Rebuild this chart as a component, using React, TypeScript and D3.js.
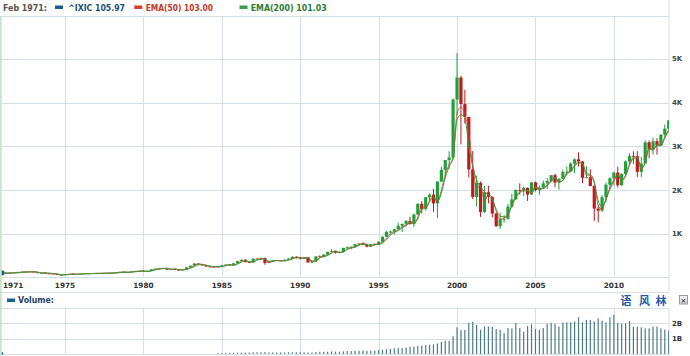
import React from 'react';
import * as d3 from 'd3';

const W = 690;
const H = 356;

// Quarterly candles, first quarter = Q1 1971
const START_YEAR = 1971;
const quarterOpen = [
  100, 104.3, 106.5, 106.0,
  114.1, 128.2, 130.6, 129.6,
  133.7, 117.5, 100.0, 105.4,
  92.2, 89.5, 75.9, 56.2,
  59.8, 72.5, 83.4, 74.3,
  77.6, 90.6, 91.3, 91.3,
  97.9, 95.6, 99.7, 100.8,
  105.1, 105.7, 116.9, 130.6,
  118.0, 131.0, 137.2, 149.9,
  151.1, 131.0, 157.8, 187.8,
  202.3, 210.2, 215.8, 180.0,
  195.8, 175.7, 171.3, 187.7,
  232.4, 270.8, 318.7, 296.7,
  278.6, 250.8, 239.6, 249.9,
  247.4, 279.2, 296.2, 280.3,
  324.9, 374.7, 405.5, 350.7,
  348.8, 430.1, 424.7, 444.3,
  330.5, 374.6, 394.7, 387.7,
  381.4, 406.7, 435.3, 472.9,
  454.8, 435.5, 462.3, 344.5,
  373.8, 482.3, 475.9, 526.9,
  586.3, 603.8, 563.6, 583.3,
  677.0, 690.1, 703.9, 762.8,
  776.8, 743.5, 706.0, 764.3,
  752.0, 817.2, 933.5, 1043.5,
  1052.1, 1101.4, 1185.0, 1226.9,
  1291.0, 1221.7, 1442.1, 1685.7,
  1570.4, 1835.7, 1894.7, 1693.8,
  2192.7, 2461.4, 2686.1, 2746.2,
  4069.3, 4572.8, 3966.1, 3672.8,
  2470.5, 1840.3, 2160.5, 1498.8,
  1950.4, 1845.4, 1463.2, 1172.1,
  1335.5, 1341.2, 1622.8, 1786.9,
  2003.4, 1994.2, 2047.8, 1896.8,
  2175.4, 1999.2, 2057.0, 2151.7,
  2205.3, 2339.8, 2172.1, 2258.4,
  2415.3, 2421.6, 2603.2, 2701.5,
  2652.3, 2279.1, 2293.0, 2091.9,
  1577.0, 1528.6, 1835.0, 2122.4,
  2269.2, 2398.0, 2109.2, 2368.6,
  2652.9, 2781.1, 2773.5, 2415.4,
  2605.2, 3091.6, 2935.1, 3116.2,
  3019.5, 3267.5, 3403.3,
];
const quarterHigh = [
  106, 109, 110, 114.5,
  128.5, 133, 133, 136.8,
  136, 118, 110, 112,
  99, 91, 78, 66,
  75, 84, 88, 81,
  91, 92, 93, 98,
  100, 100, 102, 105.1,
  106, 121, 133, 134,
  131, 137, 152, 153,
  165, 158, 189, 208,
  211, 223, 219, 200,
  197, 186, 189, 240,
  270, 329, 322, 300,
  288, 256, 256, 257,
  290, 299, 301, 326,
  376, 411, 411, 365,
  435, 437, 456, 456,
  378, 396, 397, 390,
  410, 437, 486, 486,
  470, 470, 470, 378,
  485, 508, 530, 587,
  645, 610, 600, 677,
  711, 707, 765, 787,
  804, 746, 772, 778,
  825, 935, 1068, 1070,
  1117, 1250, 1230, 1317,
  1390, 1460, 1698, 1745,
  1840, 1925, 2028, 2200,
  2535, 2690, 2887, 4091,
  5132, 4610, 4289, 3674,
  2892, 2328, 2193, 2099,
  2098, 1850, 1490, 1478,
  1426, 1680, 1915, 2015,
  2153, 2079, 2063, 2185,
  2192, 2102, 2220, 2278,
  2340, 2375, 2267, 2470,
  2541, 2634, 2725, 2861,
  2662, 2552, 2476, 2110,
  1666, 1880, 2168, 2296,
  2423, 2535, 2382, 2675,
  2840, 2888, 2888, 2754,
  3134, 3134, 3196, 3184,
  3270, 3498, 3605,
];
const quarterLow = [
  99, 103, 102, 99.7,
  113.5, 125, 126, 128,
  116, 98, 97, 88,
  87, 73, 56, 54.9,
  59.8, 72, 72, 73,
  77, 86, 88, 86,
  93, 93, 97, 96,
  99, 105, 115, 106,
  117, 128, 136, 135,
  124, 125, 156, 182,
  190, 206, 177, 175,
  172, 168, 159, 186,
  230, 268, 285, 271,
  245, 230, 225, 240,
  246, 276, 280, 278,
  322, 370, 350, 347,
  348, 404, 422, 291,
  330, 365, 377, 372,
  378, 400, 433, 433,
  410, 420, 340, 322,
  353, 470, 470, 510,
  580, 547, 556, 570,
  645, 645, 688, 740,
  735, 691, 700, 728,
  740, 810, 925, 985,
  988, 1094, 1040, 1200,
  1210, 1155, 1430, 1465,
  1530, 1750, 1499, 1357,
  2190, 2320, 2490, 2700,
  3711, 3042, 3521, 2288,
  1794, 1619, 1387, 1480,
  1696, 1375, 1160, 1108,
  1253, 1320, 1590, 1780,
  1897, 1865, 1750, 1894,
  1968, 1890, 2050, 2025,
  2188, 2065, 2012, 2250,
  2331, 2413, 2386, 2541,
  2155, 2268, 2167, 1295,
  1265, 1494, 1727, 2024,
  2100, 2061, 2091, 2335,
  2603, 2598, 2299, 2298,
  2602, 2726, 2810, 2810,
  3020, 3197, 3380,
];
const quarterClose = [
  104.3, 106.5, 106.0, 114.1,
  128.2, 130.6, 129.6, 133.7,
  117.5, 100.0, 105.4, 92.2,
  89.5, 75.9, 56.2, 59.8,
  72.5, 83.4, 74.3, 77.6,
  90.6, 91.3, 91.3, 97.9,
  95.6, 99.7, 100.8, 105.1,
  105.7, 116.9, 130.6, 118.0,
  131.0, 137.2, 149.9, 151.1,
  131.0, 157.8, 187.8, 202.3,
  210.2, 215.8, 180.0, 195.8,
  175.7, 171.3, 187.7, 232.4,
  270.8, 318.7, 296.7, 278.6,
  250.8, 239.6, 249.9, 247.4,
  279.2, 296.2, 280.3, 324.9,
  374.7, 405.5, 350.7, 348.8,
  430.1, 424.7, 444.3, 330.5,
  374.6, 394.7, 387.7, 381.4,
  406.7, 435.3, 472.9, 454.8,
  435.5, 462.3, 344.5, 373.8,
  482.3, 475.9, 526.9, 586.3,
  603.8, 563.6, 583.3, 677.0,
  690.1, 703.9, 762.8, 776.8,
  743.5, 706.0, 764.3, 752.0,
  817.2, 933.5, 1043.5, 1052.1,
  1101.4, 1185.0, 1226.9, 1291.0,
  1221.7, 1442.1, 1685.7, 1570.4,
  1835.7, 1894.7, 1693.8, 2192.7,
  2461.4, 2686.1, 2746.2, 4069.3,
  4572.8, 3966.1, 3672.8, 2470.5,
  1840.3, 2160.5, 1498.8, 1950.4,
  1845.4, 1463.2, 1172.1, 1335.5,
  1341.2, 1622.8, 1786.9, 2003.4,
  1994.2, 2047.8, 1896.8, 2175.4,
  1999.2, 2057.0, 2151.7, 2205.3,
  2339.8, 2172.1, 2258.4, 2415.3,
  2421.6, 2603.2, 2701.5, 2652.3,
  2279.1, 2293.0, 2091.9, 1577.0,
  1528.6, 1835.0, 2122.4, 2269.2,
  2398.0, 2109.2, 2368.6, 2652.9,
  2781.1, 2773.5, 2415.4, 2605.2,
  3091.6, 2935.1, 3116.2, 3019.5,
  3267.5, 3403.3, 3590,
];
const ema50 = [
  100, 103, 106, 106,
  110, 125, 130, 130,
  133, 122, 103, 105,
  95, 90, 78, 60,
  60, 70, 81, 77,
  78, 88, 90, 91,
  96, 96, 99, 101,
  104, 105, 115, 128,
  118, 128, 136, 148,
  149, 135, 153, 183,
  200, 208, 214, 185,
  193, 179, 172, 185,
  225, 265, 312, 298,
  280, 255, 240, 246,
  246, 278, 293, 283,
  318, 368, 400, 358,
  350, 418, 425, 440,
  345, 370, 390, 385,
  381, 402, 432, 465,
  455, 440, 455, 360,
  365, 470, 482, 520,
  575, 610, 572, 590,
  660, 685, 702, 752,
  775, 760, 718, 758,
  765, 810, 900, 1010,
  1045, 1090, 1160, 1200,
  1270, 1240, 1380, 1620,
  1600, 1760, 1860, 1720,
  2000, 2350, 2580, 2760,
  3750, 3900, 3750, 3300,
  2550, 2050, 2100, 1750,
  1900, 1820, 1520, 1330,
  1360, 1420, 1640, 1820,
  1960, 2000, 1990, 1920,
  2100, 2030, 2040, 2120,
  2220, 2290, 2180, 2220,
  2400, 2440, 2570, 2640,
  2610, 2340, 2340, 2150,
  1650, 1560, 1800, 2060,
  2230, 2360, 2220, 2340,
  2600, 2750, 2760, 2470,
  2640, 2980, 2920, 3040,
  3020, 3220, 3380,
];
const ema200 = [
  100, 101, 104, 105,
  107, 118, 126, 128,
  131, 124, 108, 106,
  98, 92, 82, 66,
  63, 69, 78, 76,
  77, 85, 89, 90,
  94, 95, 98, 100,
  102, 104, 111, 122,
  118, 125, 132, 142,
  146, 136, 149, 172,
  190, 202, 208, 190,
  192, 182, 176, 184,
  214, 248, 290, 290,
  280, 262, 248, 249,
  249, 270, 286, 282,
  308, 350, 382, 360,
  352, 400, 416, 430,
  370, 372, 386, 385,
  382, 397, 422, 452,
  450, 442, 452, 380,
  372, 452, 472, 505,
  555, 590, 572, 585,
  645, 672, 692, 735,
  762, 755, 722, 752,
  755, 790, 870, 970,
  1030, 1070, 1140, 1180,
  1250, 1240, 1340, 1560,
  1590, 1720, 1830, 1740,
  1930, 2280, 2530, 2740,
  3600, 3720, 3650, 3000,
  2540, 2230, 2080, 1960,
  1890, 1770, 1560, 1400,
  1390, 1450, 1650, 1850,
  1940, 1980, 1980, 1930,
  2060, 2020, 2030, 2100,
  2190, 2260, 2190, 2220,
  2370, 2420, 2540, 2620,
  2610, 2380, 2350, 2200,
  1750, 1620, 1780, 2020,
  2200, 2330, 2230, 2320,
  2570, 2720, 2740, 2500,
  2620, 2940, 2910, 3020,
  3010, 3190, 3350,
];

// Quarterly average daily volume (billions), first bar = Q4 1984
const VOLUME_START_INDEX = (1984 - START_YEAR) * 4 + 3;
const volumeB = [
  0.06,
  0.06, 0.07, 0.07, 0.08,
  0.09, 0.09, 0.09, 0.09,
  0.11, 0.11, 0.11, 0.12,
  0.10, 0.10, 0.09, 0.10,
  0.10, 0.11, 0.11, 0.11,
  0.11, 0.11, 0.10, 0.10,
  0.13, 0.14, 0.14, 0.15,
  0.17, 0.15, 0.15, 0.17,
  0.19, 0.19, 0.20, 0.21,
  0.22, 0.20, 0.21, 0.22,
  0.25, 0.28, 0.31, 0.33,
  0.36, 0.40, 0.38, 0.42,
  0.46, 0.47, 0.52, 0.55,
  0.58, 0.60, 0.62, 0.68,
  0.78, 0.85, 0.85, 1.15,
  1.72, 1.55, 1.55, 2.00,
  2.08, 1.87, 1.57, 1.78,
  1.78, 1.74, 1.61, 1.57,
  1.35, 1.68, 1.65, 2.00,
  1.68, 1.44, 1.80, 1.91,
  1.61, 1.55, 1.68, 1.94,
  2.00, 1.94, 1.76, 2.02,
  2.04, 2.04, 2.10, 2.37,
  2.04, 2.20, 2.20, 2.10,
  2.30, 2.15, 2.04, 2.37,
  2.52, 2.00, 1.94, 1.98,
  2.13, 1.76, 1.76, 1.72,
  1.65, 1.65, 1.76, 1.76,
  1.65, 1.57, 1.50,
];

const yearTicks = [1971, 1975, 1980, 1985, 1990, 1995, 2000, 2005, 2010];
const priceTicks = [1000, 2000, 3000, 4000, 5000];
const priceTickLabels = ['1K', '2K', '3K', '4K', '5K'];
const volumeTicks = [1, 2];
const volumeTickLabels = ['1B', '2B'];

const legendDate = 'Feb 1971:';
const legendItems = [
  { label: '^IXIC 105.97', rect: '#1f5c99', text: '#1f4e79' },
  { label: 'EMA(50) 103.00', rect: '#de3b2b', text: '#c0392b' },
  { label: 'EMA(200) 101.03', rect: '#3a9a48', text: '#2e7d32' },
];
const cjkLabel = ['语', '风', '林'];

const quarterDate = (i: number) => new Date(START_YEAR + Math.floor(i / 4), (i % 4) * 3, 1);

export default function App() {
  const left = 2.3;
  const right = 669;
  const x = d3
    .scaleTime()
    .domain([new Date(1971, 0, 1), new Date(2013, 6, 1)])
    .range([left, 668.7]);
  const y = d3.scaleLinear().domain([0, 5980]).range([277.5, 16]);
  const yv = d3.scaleLinear().domain([0, 3]).range([354, 307.5]);

  const grid = '#d6dee6';
  const green = '#23a03b';
  const red = '#bf1a20';

  const candles = quarterClose.map((c, i) => ({
    d: quarterDate(i),
    o: quarterOpen[i],
    h: quarterHigh[i],
    l: quarterLow[i],
    c,
  }));

  const lineGen = (arr: number[]) =>
    d3
      .line<number>()
      .x((_, i) => x(quarterDate(i)))
      .y((v) => y(v))
      .curve(d3.curveMonotoneX)(arr) || '';

  const font = "'DejaVu Sans', Verdana, sans-serif";

  const legendX = [68.3, 145.7, 250.7];
  const legendRectX = [55, 134.3, 239.5];
  const legendW = [56.7, 67.3, 76];

  return (
    <svg width={W} height={H} style={{ display: 'block', position: 'absolute', left: 0, top: 0 }} fontFamily={font}>
      <rect x={0} y={0} width={W} height={H} fill="#fff" />
      <defs>
        <clipPath id="plotClip">
          <rect x={2} y={16} width={right - 2} height={277.5 - 16} />
        </clipPath>
        <clipPath id="volClip">
          <rect x={2} y={307.5} width={right - 2} height={354 - 307.5} />
        </clipPath>
        <linearGradient id="btn" x1="0" x2="0" y1="0" y2="1">
          <stop offset="0" stopColor="#f4f4f4" />
          <stop offset="1" stopColor="#d8d8d8" />
        </linearGradient>
      </defs>

      {/* header legend */}
      <text x={3} y={11} fontSize={8} fontWeight="bold" fill="#555" textLength={44} lengthAdjust="spacingAndGlyphs">
        {legendDate}
      </text>
      {legendItems.map((it, i) => (
        <g key={it.label}>
          <rect x={legendRectX[i]} y={5.5} width={8} height={3.5} fill={it.rect} />
          <text
            x={legendX[i]}
            y={11}
            fontSize={8}
            fontWeight="bold"
            fill={it.text}
            textLength={legendW[i]}
            lengthAdjust="spacingAndGlyphs"
          >
            {it.label}
          </text>
        </g>
      ))}

      {/* frame lines */}
      <line x1={0} x2={right} y1={16.5} y2={16.5} stroke={grid} />
      <line x1={right} x2={right} y1={0} y2={292} stroke={grid} />
      <line x1={0} x2={right} y1={292.5} y2={292.5} stroke={grid} />
      <line x1={right} x2={right} y1={307.5} y2={356} stroke={grid} />

      {/* price grid */}
      {priceTicks.map((t) => (
        <line key={t} x1={2} x2={right} y1={Math.round(y(t)) + 0.5} y2={Math.round(y(t)) + 0.5} stroke={grid} />
      ))}
      <line x1={2} x2={right} y1={277.5} y2={277.5} stroke={grid} />
      {yearTicks.slice(1).map((yr) => {
        const xx = Math.round(x(new Date(yr, 0, 1))) + 0.5;
        return (
          <g key={yr}>
            <line x1={xx} x2={xx} y1={16} y2={277.5} stroke={grid} />
            <line x1={xx} x2={xx} y1={307.5} y2={354} stroke={grid} />
          </g>
        );
      })}

      {/* volume grid */}
      {[0, ...volumeTicks, 3].map((t) => (
        <line key={t} x1={2} x2={right} y1={Math.round(yv(t)) + 0.5} y2={Math.round(yv(t)) + 0.5} stroke={grid} />
      ))}

      {/* candles */}
      <g clipPath="url(#plotClip)">
        {candles.map((k, i) => {
          const cx = x(k.d);
          const col = k.c >= k.o ? green : red;
          const top = y(Math.max(k.o, k.c));
          const bot = y(Math.min(k.o, k.c));
          return (
            <g key={i}>
              <line x1={cx} x2={cx} y1={y(k.h)} y2={y(k.l)} stroke={col} strokeWidth={1} />
              <rect x={cx - 1.6} y={top} width={3.2} height={Math.max(0.8, bot - top)} fill={col} />
            </g>
          );
        })}
        <path d={lineGen(ema50)} fill="none" stroke="#c8452c" strokeWidth={1} opacity={0.85} />
        <path d={lineGen(ema200)} fill="none" stroke="#3c9a3f" strokeWidth={1} />
      </g>
      <circle cx={2} cy={y(105.97)} r={2.6} fill="#1f5c99" />

      {/* price axis labels */}
      {priceTicks.map((t, i) => (
        <text key={t} x={672} y={y(t) + 2.5} fontSize={7} fontWeight="bold" fill="#444">
          {priceTickLabels[i]}
        </text>
      ))}

      {/* year labels */}
      {yearTicks.map((yr, i) => (
        <text
          key={yr}
          x={i === 0 ? 3 : x(new Date(yr, 0, 1))}
          y={288}
          fontSize={7.3}
          fontWeight="bold"
          fill="#333"
          textAnchor={i === 0 ? 'start' : 'middle'}
        >
          {yr}
        </text>
      ))}

      {/* volume header */}
      <rect x={7} y={298.5} width={8} height={3.5} fill="#1f5c99" />
      <text x={18} y={303} fontSize={8} fontWeight="bold" fill="#1f3f66" textLength={36} lengthAdjust="spacingAndGlyphs">
        Volume:
      </text>
      {cjkLabel.map((ch, i) => (
        <text
          key={ch}
          x={[626, 644.5, 661][i]}
          y={305}
          fontSize={11}
          fontWeight="bold"
          fill="#2a5aa8"
          textAnchor="middle"
          fontFamily="'Noto Sans CJK SC', sans-serif"
        >
          {ch}
        </text>
      ))}
      <rect x={679.5} y={295.5} width={8} height={8.5} fill="url(#btn)" stroke="#9a9a9a" strokeWidth={1} />
      <text x={683.5} y={302.5} fontSize={7} fill="#444" textAnchor="middle" fontWeight="bold">
        ×
      </text>

      {/* volume bars */}
      <g clipPath="url(#volClip)">
        {volumeB.map((v, i) => {
          const cx = x(quarterDate(VOLUME_START_INDEX + i));
          return (
            <rect key={i} x={cx - 0.6} y={yv(v)} width={1.2} height={Math.max(0.8, yv(0) - yv(v))} fill="#4d7b82" />
          );
        })}
      </g>
      <circle cx={2} cy={353.5} r={1.3} fill="#1f5c99" />

      {/* volume axis labels */}
      {volumeTicks.map((t, i) => (
        <text key={t} x={672} y={yv(t) + 2.5} fontSize={7} fontWeight="bold" fill="#333">
          {volumeTickLabels[i]}
        </text>
      ))}

      {/* left green edge */}
      <rect x={0} y={16} width={1.8} height={H - 16} fill="#c9e4c9" />
    </svg>
  );
}
